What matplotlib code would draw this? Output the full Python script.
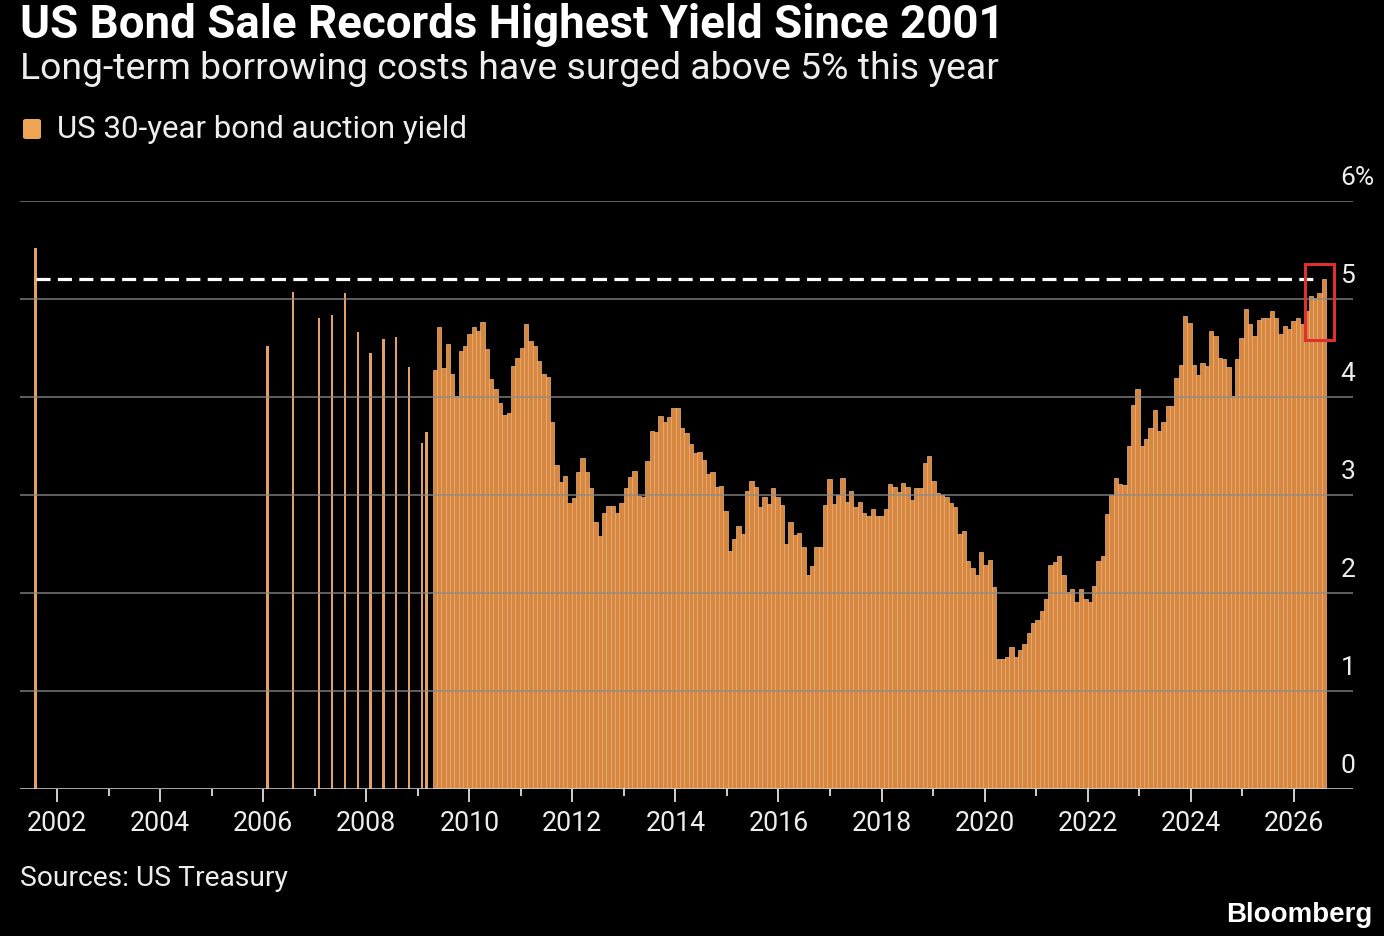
import numpy as np
import matplotlib
matplotlib.use("Agg")
import matplotlib.pyplot as plt
from matplotlib.patches import Rectangle, FancyBboxPatch

# Auctions before monthly issuance (year, month) and yields in %
sparse_dates = [(2001, 8), (2006, 2), (2006, 8), (2007, 2), (2007, 5), (2007, 8),
                (2007, 11), (2008, 2), (2008, 5), (2008, 8), (2008, 11), (2009, 2), (2009, 3)]
sparse_vals = [5.52, 4.52, 5.07, 4.81, 4.84, 5.06, 4.66, 4.45, 4.59, 4.61, 4.31, 3.53, 3.64]

# Monthly auctions from May 2009 to the latest one
dense_start = (2009, 5)
dense_end = (2026, 8)
dense_vals = [
    4.28, 4.71, 4.30, 4.54, 4.23, 4.01, 4.47, 4.52, 4.64, 4.71, 4.67, 4.77,
    4.49, 4.18, 4.08, 3.94, 3.82, 3.84, 4.32, 4.40, 4.50, 4.74, 4.57, 4.52,
    4.37, 4.23, 4.20, 3.74, 3.31, 3.13, 3.19, 2.92, 2.97, 3.23, 3.38, 3.23,
    3.07, 2.72, 2.58, 2.82, 2.89, 2.89, 2.82, 2.92, 3.07, 3.18, 3.24, 2.99,
    2.98, 3.35, 3.65, 3.64, 3.81, 3.75, 3.80, 3.89, 3.89, 3.68, 3.63, 3.52,
    3.43, 3.44, 3.36, 3.21, 3.23, 3.08, 3.09, 2.84, 2.43, 2.55, 2.68, 2.60,
    3.04, 3.14, 3.08, 2.88, 2.98, 2.91, 3.07, 2.98, 2.90, 2.50, 2.72, 2.59,
    2.61, 2.47, 2.18, 2.28, 2.47, 2.47, 2.90, 3.16, 2.91, 3.00, 3.17, 2.93,
    3.04, 2.88, 2.93, 2.82, 2.79,
    2.86, 2.79, 2.79, 2.86, 3.11, 3.08, 3.03, 3.12, 3.08, 2.95, 3.07, 3.07,
    3.33, 3.40, 3.14, 3.02, 3.00, 2.98, 2.92, 2.88, 2.60, 2.63, 2.33, 2.26,
    2.18, 2.42, 2.29, 2.34, 2.06, 1.33, 1.33, 1.35, 1.45, 1.35, 1.42, 1.48,
    1.59, 1.69, 1.72, 1.82, 1.94, 2.29, 2.32, 2.38, 2.18, 2.01, 2.04, 1.91,
    2.04, 1.94, 1.91, 2.07, 2.33, 2.38,
    2.81, 3.00, 3.17, 3.11, 3.10, 3.50, 3.92, 4.08, 3.50, 3.57, 3.68, 3.87,
    3.65, 3.74, 3.91, 3.91, 4.19, 4.33, 4.83, 4.76, 4.33, 4.22, 4.35, 4.32,
    4.67, 4.62, 4.40, 4.39, 4.31, 4.01, 4.39, 4.60, 4.90, 4.74, 4.62, 4.79,
    4.81, 4.81, 4.88, 4.81, 4.64, 4.72, 4.69, 4.78, 4.81, 4.74, 4.88, 5.03,
    5.01, 5.06, 5.20,
]

year_ticks = list(range(2002, 2027, 2))
minor_ticks = list(range(2003, 2027, 2))
y_ticks = [0, 1, 2, 3, 4, 5, 6]
y_labels = ["0", "1", "2", "3", "4", "5", "6%"]

title = "US Bond Sale Records Highest Yield Since 2001"
subtitle = "Long-term borrowing costs have surged above 5% this year"
legend_label = "US 30-year bond auction yield"
source = "Sources: US Treasury"


def frac_year(y, m):
    return y + (m - 1) / 12


sparse_x = np.array([frac_year(y, m) for y, m in sparse_dates])
dense_x = np.linspace(frac_year(*dense_start), frac_year(*dense_end), len(dense_vals))

BG = "#000000"
BAR = "#D7873F"
BAR_EDGE = "#EDB57F"
TXT = "#EDEDED"
FONT = ["Roboto", "DejaVu Sans"]

W, H = 1384, 936
fig = plt.figure(figsize=(W / 100, H / 100), dpi=100, facecolor=BG)


def px(x, y):
    return x / W, 1 - y / H


ax_l, ax_r, ax_b, ax_t = 20, 1353, 789, 201
ax = fig.add_axes([ax_l / W, 1 - ax_b / H, (ax_r - ax_l) / W, (ax_b - ax_t) / H])
ax.set_facecolor(BG)

step = dense_x[1] - dense_x[0]
ax.bar(dense_x, dense_vals, width=step, color=BAR, edgecolor=BAR_EDGE,
       linewidth=0.5, zorder=2)
ax.bar(sparse_x, sparse_vals, width=0.045, color="#E5A066", linewidth=0, zorder=2)

# gridlines
for v in y_ticks[1:]:
    ax.axhline(v, color="#8a8a8a", lw=1.3, alpha=0.75, zorder=3)
ax.axhline(0, color="#d8d8d8", lw=1.8, zorder=4)

# level of the latest auction carried back
last = dense_vals[-1]
ax.plot([sparse_x[0], dense_x[-1] - 0.07], [last, last], color="white", lw=2.3,
        dashes=(4.4, 2.3), zorder=5, solid_capstyle="butt")

# highlight recent auctions
x0 = dense_x[-4] - 0.12
x1 = dense_x[-1] + 0.2
ax.add_patch(Rectangle((x0, 4.58), x1 - x0, 0.78, fill=False, ec="#E0302E",
                       lw=2.2, zorder=6))

ax.set_xlim(2001.28, 2027.15)
ax.set_ylim(0, 6)
for s in ax.spines.values():
    s.set_visible(False)
ax.set_yticks([])
ax.set_xticks(year_ticks)
ax.set_xticks(minor_ticks, minor=True)
ax.set_xticklabels([str(y) for y in year_ticks])
ax.tick_params(axis="x", which="major", length=9, width=1.4, color="#cfcfcf",
               labelcolor=TXT, labelsize=19.3, pad=6)
ax.tick_params(axis="x", which="minor", length=5, width=1.4, color="#cfcfcf")
for lab in ax.get_xticklabels():
    lab.set_family(FONT)

for v, lab in zip(y_ticks, y_labels):
    ax.text(0.9905, v + 0.23, lab, transform=ax.get_yaxis_transform(),
            ha="left", va="center", color=TXT, fontsize=19, family=FONT,
            clip_on=False)

fig.text(*px(20, 25), title, ha="left", va="center", color="white",
         fontsize=32.9, fontweight="bold", family=FONT)
fig.text(*px(20, 69), subtitle, ha="left", va="center", color=TXT,
         fontsize=26.9, family=FONT)
fig.patches.append(FancyBboxPatch(px(23, 139), 18 / W, 20 / H,
                                  boxstyle="round,pad=0,rounding_size=0.002",
                                  transform=fig.transFigure, fc="#F0A455",
                                  ec="none"))
fig.text(*px(57, 129), legend_label, ha="left", va="center", color=TXT,
         fontsize=22.5, family=FONT)
fig.text(*px(20, 878), source, ha="left", va="center", color=TXT,
         fontsize=20.3, family=FONT)
fig.text(*px(1372, 915), "Bloomberg", ha="right", va="center", color="white",
         fontsize=20, fontweight="bold", family=["Liberation Sans", "DejaVu Sans"])

fig.savefig("out.png", dpi=100, facecolor=BG)
